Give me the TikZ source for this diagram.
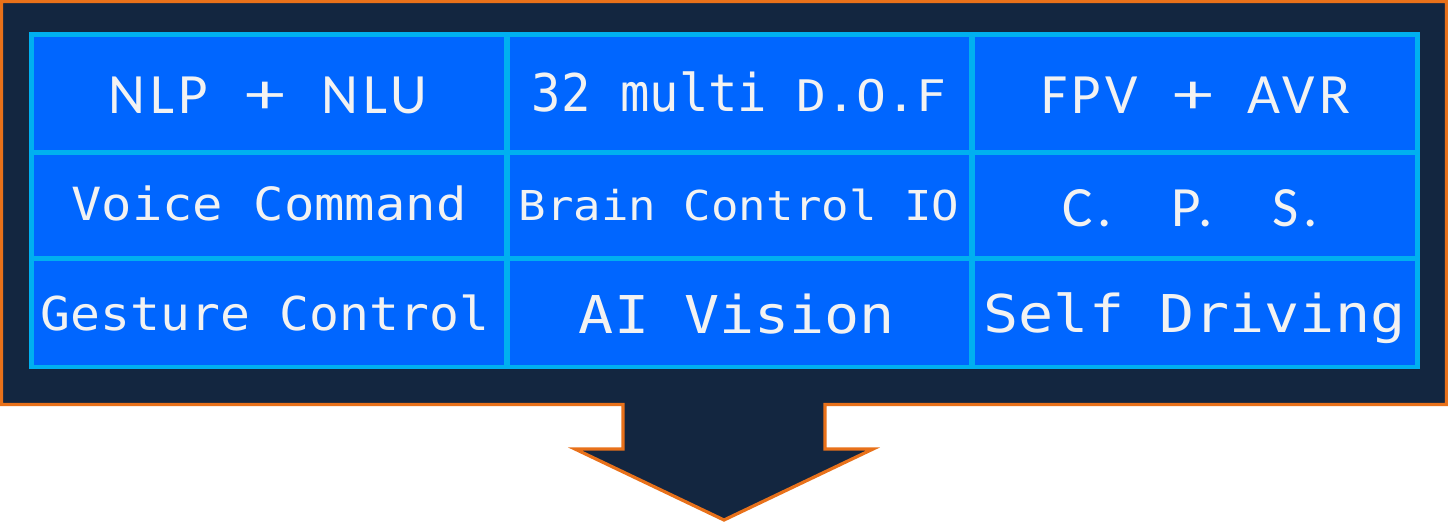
\documentclass[tikz,border=0pt]{standalone}
\usepackage{fontspec}
\usepackage{graphicx}
\newfontfamily\calfont[LetterSpace=8]{Carlito}
\newfontfamily\monofont{DejaVu Sans Mono}
\definecolor{navy}{RGB}{19,38,64}
\definecolor{orng}{RGB}{232,113,26}
\definecolor{cellblue}{RGB}{0,102,255}
\definecolor{gridblue}{RGB}{0,176,240}
\definecolor{txtc}{RGB}{242,242,242}
\newcommand\mtext[3]{\scalebox{#2}[1]{\fontsize{#1}{#1}\monofont #3}}
\newcommand\ctext[1]{\fontsize{57}{57}\calfont #1}
\newcommand\wplus{\scalebox{1.4}[1]{+}}
\tikzset{
  outline/.style={fill=navy, draw=orng, line width=3.2pt, miter limit=10},
  tbl/.style={fill=cellblue},
  gridline/.style={draw=gridblue},
  txt/.style={text=txtc, inner sep=0pt, anchor=base}
}
\begin{document}
\begin{tikzpicture}[x=1pt,y=-1pt]
\useasboundingbox (0,0) rectangle (1448,523);
% callout with down arrow
\path[outline] (1.6,1.6) -- (1446.4,1.6) -- (1446.4,404.4) -- (825,404.4)
  -- (825,449) -- (873,449) -- (724,520) -- (575,449) -- (623,449)
  -- (623,404.4) -- (1.6,404.4) -- cycle;
% table
\path[tbl] (31.7,34.3) rectangle (1417.5,367);
\draw[gridline, line width=5pt] (31.7,152.5) -- (1417.5,152.5)
  (31.7,258.5) -- (1417.5,258.5);
\draw[gridline, line width=6pt] (506.5,34.3) -- (506.5,367)
  (971.5,34.3) -- (971.5,367);
\draw[gridline, line width=4.5pt] (31.7,34.3) rectangle (1417.5,367);
% texts
\node[txt] (t11) at (268,113.3) {\ctext{NLP\hspace{37pt}\wplus\hspace{37pt}NLU}};
\node[txt] (t12) at (739,111) {\mtext{52}{0.94}{32 multi }\mtext{43.5}{1.14}{D.O.F}};
\node[txt] (t13) at (1196,113.3) {\ctext{FPV\hspace{35pt}\wplus\hspace{35pt}AVR}};
\node[txt] (t21) at (269,220) {\mtext{45.7}{1.105}{Voice Command}};
\node[txt] (t22) at (739,220) {\mtext{41.2}{1.109}{Brain Control IO}};
\node[txt] (t23) at (1190,226) {\ctext{C.\hspace{60pt}P.\hspace{60pt}S.}};
\node[txt] (t31) at (265,330.7) {\mtext{46.6}{1.066}{Gesture Control}};
\node[txt] (t32) at (737,333.3) {\mtext{52.1}{1.12}{AI Vision}};
\node[txt] (t33) at (1194.5,332.3) {\mtext{52.1}{1.12}{Self Driving}};
\end{tikzpicture}
\end{document}
